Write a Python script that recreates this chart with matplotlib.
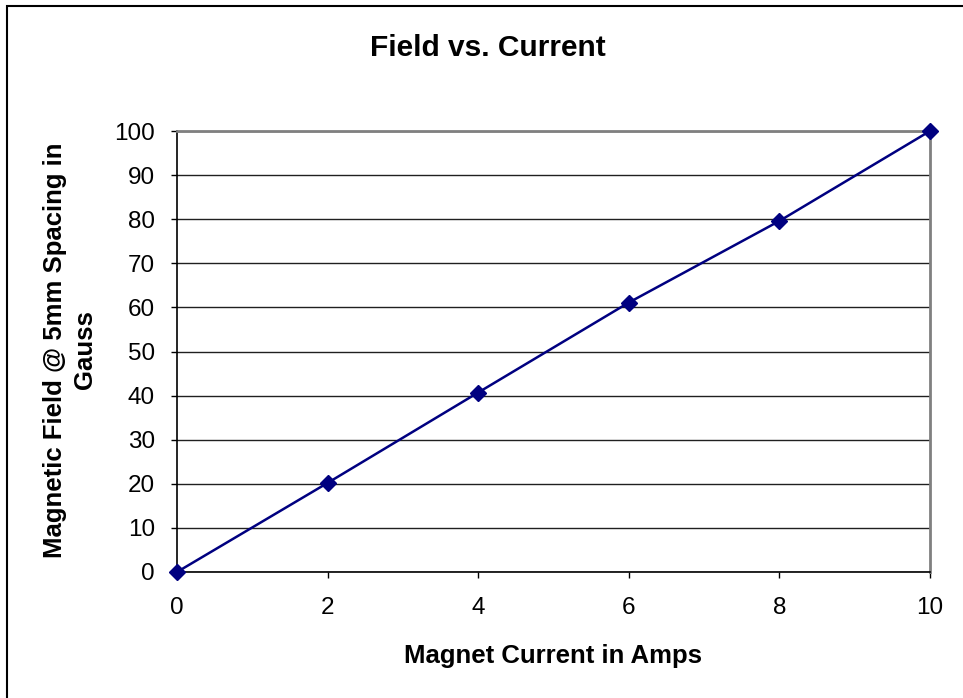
import matplotlib
matplotlib.use('Agg')
import matplotlib.pyplot as plt
import matplotlib.patches as patches

# data
current = [0, 2, 4, 6, 8, 10]
field = [0, 20.2, 40.7, 61.1, 79.6, 100]
x_ticks = [0, 2, 4, 6, 8, 10]
y_ticks = list(range(0, 101, 10))

plt.rcParams['font.family'] = ['Liberation Sans', 'DejaVu Sans']

fig = plt.figure(figsize=(9.63, 6.98), dpi=100)
W, H = 963, 698

# outer chart border (only top and left are visible in the crop)
fig.patches.append(patches.Rectangle((7 / W, -0.1), 1.2, 1 - 6 / H + 0.1,
                                     transform=fig.transFigure, fill=False,
                                     edgecolor='black', linewidth=1.5))

ax = fig.add_axes([177 / W, 126 / H, 753 / W, 441 / H])
ax.plot(current, field, color='#000080', linewidth=1.8, marker='D',
        markersize=8, markerfacecolor='#000080', markeredgecolor='#000080',
        clip_on=False, zorder=5)

ax.set_xlim(0, 10)
ax.set_ylim(0, 100)
ax.set_xticks(x_ticks)
ax.set_yticks(y_ticks)
ax.tick_params(axis='both', direction='out', length=4, width=1, labelsize=17.5,
               color='black')
ax.tick_params(axis='x', pad=14)
ax.tick_params(axis='y', pad=12)

ax.yaxis.grid(True, color='#202020', linewidth=1)
ax.set_axisbelow(True)

for side in ['top', 'right']:
    ax.spines[side].set_color('#808080')
    ax.spines[side].set_linewidth(2)
for side in ['left', 'bottom']:
    ax.spines[side].set_color('black')
    ax.spines[side].set_linewidth(1.2)

fig.text(488 / W, 1 - 48 / H, 'Field vs. Current', ha='center', va='center',
         fontsize=21.5, fontweight='bold')
fig.text(553 / W, 1 - 656 / H, 'Magnet Current in Amps', ha='center',
         va='center', fontsize=18.5, fontweight='bold')
fig.text(70 / W, 1 - 350 / H, 'Magnetic Field @ 5mm Spacing in\nGauss',
         rotation=90, ha='center', va='center', multialignment='center',
         fontsize=18.5, fontweight='bold', linespacing=1.35)

plt.savefig('out.png', dpi=100)
